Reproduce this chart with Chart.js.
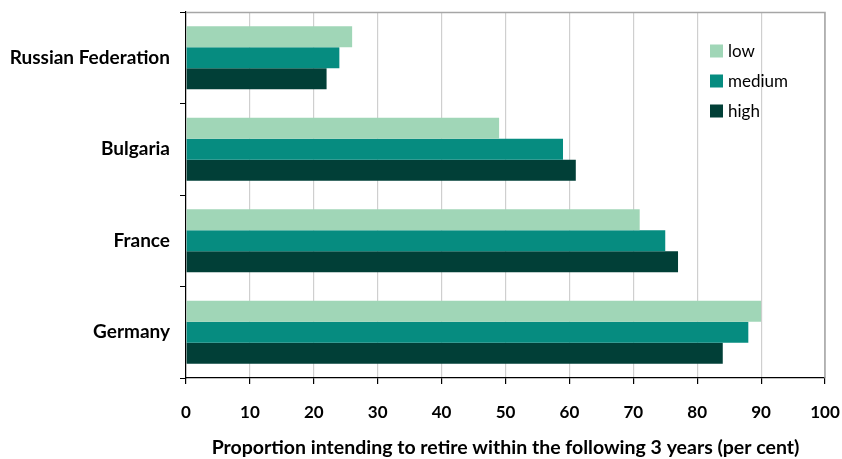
<!DOCTYPE html>
<html>
<head>
<meta charset="utf-8">
<script src="https://cdn.jsdelivr.net/npm/chart.js@4"></script>
<style>
  html, body { margin: 0; padding: 0; background: #fff; }
  #wrap { width: 842px; height: 459px; }
</style>
</head>
<body>
<div id="wrap"><canvas id="c" width="842" height="459"></canvas></div>
<script>
// Countries, top to bottom
const countries = ['Russian Federation', 'Bulgaria', 'France', 'Germany'];
// Share intending to retire within 3 years, by level
const lowValues = [26, 49, 71, 90];
const mediumValues = [24, 59, 75, 88];
const highValues = [22, 61, 77, 84];
const seriesNames = ['low', 'medium', 'high'];
const seriesColors = ['#a0d6b7', '#068c80', '#013f37'];
const xTicks = [0, 10, 20, 30, 40, 50, 60, 70, 80, 90, 100];
const axisTitle = 'Proportion intending to retire within the following 3 years (per cent)';

const FONT = "Lato, 'Open Sans', sans-serif";

// Frame around the plot plus an inset legend
const framePlugin = {
  id: 'frame',
  beforeDatasetsDraw(chart) {
    const { ctx, chartArea: a } = chart;
    ctx.save();
    ctx.strokeStyle = '#a6a6a6';
    ctx.lineWidth = 1.5;
    ctx.beginPath();
    ctx.moveTo(a.left, a.top + 0.5);
    ctx.lineTo(a.right, a.top + 0.5);
    ctx.lineTo(a.right, a.bottom);
    ctx.stroke();
    ctx.restore();
  },
  afterDraw(chart) {
    const { ctx } = chart;
    ctx.save();
    ctx.font = "17px " + FONT;
    ctx.textBaseline = 'middle';
    chart.data.datasets.forEach((ds, i) => {
      const y = 50.5 + i * 30;
      ctx.fillStyle = ds.backgroundColor;
      ctx.fillRect(710, y - 6, 13, 13);
      ctx.fillStyle = '#000';
      ctx.fillText(ds.label, 728, y + 1);
    });
    ctx.restore();
  }
};

new Chart(document.getElementById('c'), {
  type: 'bar',
  data: {
    labels: countries,
    datasets: [
      { label: seriesNames[0], data: lowValues, backgroundColor: seriesColors[0] },
      { label: seriesNames[1], data: mediumValues, backgroundColor: seriesColors[1] },
      { label: seriesNames[2], data: highValues, backgroundColor: seriesColors[2] }
    ]
  },
  options: {
    indexAxis: 'y',
    responsive: false,
    animation: false,
    layout: { padding: { top: 12, right: 17, left: 0, bottom: 0 } },
    datasets: { bar: { categoryPercentage: 0.69, barPercentage: 1.0 } },
    plugins: { legend: { display: false }, tooltip: { enabled: false } },
    scales: {
      x: {
        min: 0, max: 100,
        afterBuildTicks: s => { s.ticks = xTicks.map(v => ({ value: v })); },
        afterFit: s => { s.height = 81; s.paddingLeft = 0; s.paddingRight = 0; },
        grid: { color: '#cfcfcf', lineWidth: 1.2, tickLength: 6, tickColor: '#000' },
        border: { color: '#000', width: 1.2 },
        ticks: { color: '#000', padding: 18, font: { family: FONT, size: 17, weight: 'bold' } },
        title: {
          display: true, text: axisTitle, color: '#000',
          font: { family: FONT, size: 19.5, weight: 'bold' },
          padding: { top: 4, bottom: 0 }
        }
      },
      y: {
        afterFit: s => { s.width = 186; s.paddingTop = 0; s.paddingBottom = 0; },
        grid: { drawOnChartArea: false, tickLength: 6, tickColor: '#000', offset: true },
        border: { color: '#000', width: 1.2 },
        ticks: { color: '#000', padding: 10, font: { family: FONT, size: 19, weight: 'bold' } }
      }
    }
  },
  plugins: [framePlugin]
});
</script>
</body>
</html>
